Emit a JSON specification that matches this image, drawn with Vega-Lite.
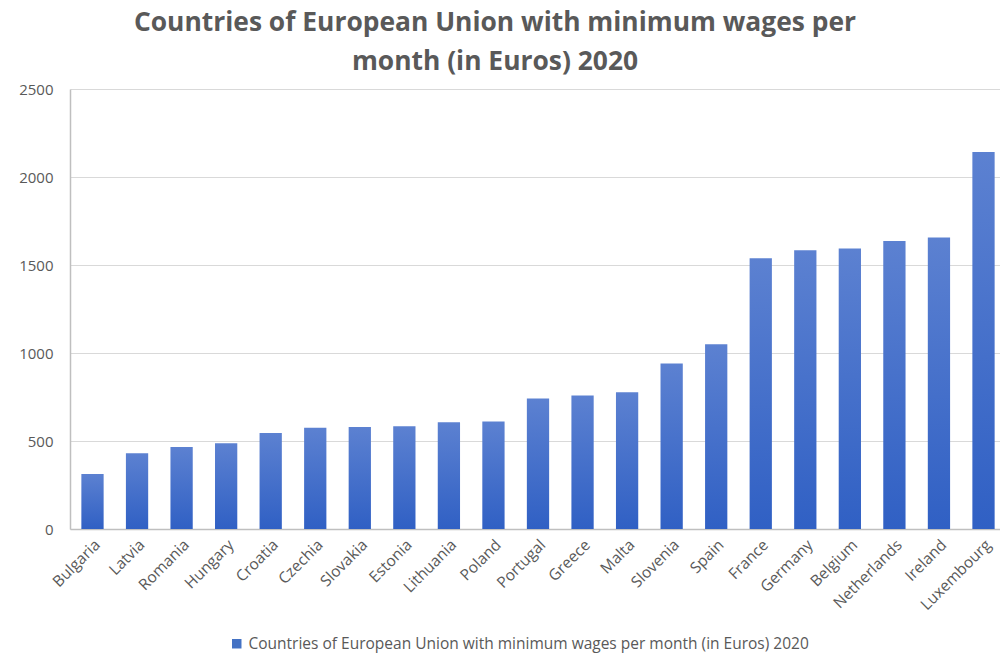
{
  "$schema": "https://vega.github.io/schema/vega-lite/v6.json",
  "autosize": {"type": "none"},
  "width": 936,
  "height": 440,
  "padding": {"left": 70, "top": 89, "right": 0, "bottom": 128},
  "background": "white",
  "title": {
    "text": ["Countries of European Union with minimum wages per", "month (in Euros) 2020"],
    "font": "Open Sans",
    "fontSize": 26.4,
    "fontWeight": "bold",
    "color": "#595959",
    "lineHeight": 39,
    "anchor": "middle",
    "dx": -43,
    "offset": 7
  },
  "data": {
    "values": [
      {"country": "Bulgaria", "wage": 312},
      {"country": "Latvia", "wage": 430},
      {"country": "Romania", "wage": 466},
      {"country": "Hungary", "wage": 487},
      {"country": "Croatia", "wage": 546},
      {"country": "Czechia", "wage": 575},
      {"country": "Slovakia", "wage": 580},
      {"country": "Estonia", "wage": 584},
      {"country": "Lithuania", "wage": 607},
      {"country": "Poland", "wage": 611},
      {"country": "Portugal", "wage": 741},
      {"country": "Greece", "wage": 758},
      {"country": "Malta", "wage": 777},
      {"country": "Slovenia", "wage": 941},
      {"country": "Spain", "wage": 1050},
      {"country": "France", "wage": 1539},
      {"country": "Germany", "wage": 1584},
      {"country": "Belgium", "wage": 1594},
      {"country": "Netherlands", "wage": 1636},
      {"country": "Ireland", "wage": 1656},
      {"country": "Luxembourg", "wage": 2142}
    ]
  },
  "encoding": {
    "x": {
      "field": "country",
      "type": "nominal",
      "sort": null,
      "scale": {"paddingInner": 0.5, "paddingOuter": 0.255},
      "axis": {
        "title": null,
        "labelAngle": -45,
        "labelFont": "Open Sans",
        "labelFontSize": 15.5,
        "labelColor": "#595959",
        "ticks": false,
        "labelPadding": 8,
        "domainColor": "#bfbfbf",
        "domainWidth": 1.5
      }
    },
    "y": {
      "field": "wage",
      "type": "quantitative",
      "scale": {"domain": [0, 2500]},
      "axis": {
        "title": null,
        "values": [0, 500, 1000, 1500, 2000, 2500],
        "format": "d",
        "labelFont": "Open Sans",
        "labelFontSize": 15,
        "labelColor": "#595959",
        "ticks": false,
        "labelPadding": 17,
        "domainColor": "#bfbfbf",
        "domainWidth": 1.5,
        "gridColor": "#d9d9d9",
        "gridWidth": 1.2
      }
    }
  },
  "layer": [
    {
      "mark": {
        "type": "bar",
        "color": {
          "gradient": "linear",
          "x1": 0, "y1": 0, "x2": 0, "y2": 1,
          "stops": [
            {"offset": 0, "color": "#5c81d1"},
            {"offset": 1, "color": "#3060c4"}
          ]
        }
      }
    },
    {
      "mark": {"type": "bar", "opacity": 0},
      "encoding": {
        "fill": {
          "datum": "Countries of European Union with minimum wages per month (in Euros) 2020",
          "scale": {"range": ["#4472c4"]},
          "legend": {
            "title": null,
            "orient": "none",
            "legendX": 159,
            "legendY": 547,
            "symbolType": "square",
            "symbolSize": 90,
            "symbolStrokeWidth": 0,
            "labelFont": "Open Sans",
            "labelFontSize": 15.5,
            "labelColor": "#595959",
            "labelLimit": 800
          }
        }
      }
    }
  ],
  "config": {
    "view": {"stroke": null}
  }
}
